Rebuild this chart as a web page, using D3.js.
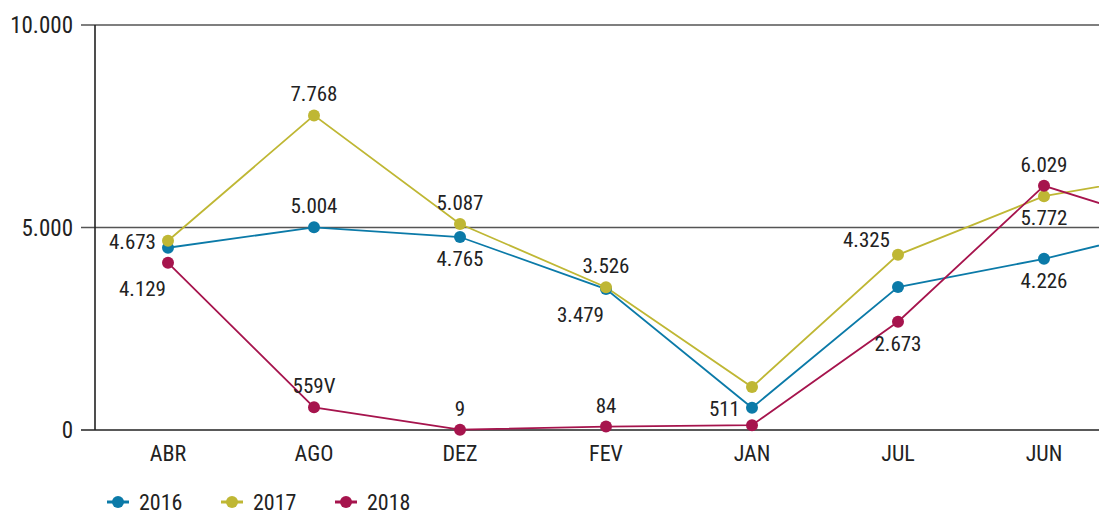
<!DOCTYPE html>
<html>
<head>
<meta charset="utf-8">
<script src="https://cdn.jsdelivr.net/npm/d3@7"></script>
<style>
  body { margin: 0; background: #fff; }
  text { font-family: "Liberation Sans Narrow", "Roboto Condensed", Roboto, sans-serif; fill: #222; }
</style>
</head>
<body>
<div id="chart"></div>
<script>
// months in alphabetical order, the chart is cut off after JUN
const months = ["ABR", "AGO", "DEZ", "FEV", "JAN", "JUL", "JUN", "MAI"];
const years = ["2016", "2017", "2018"];
const values2016 = [4500, 5004, 4765, 3479, 550, 3530, 4226, 5100];
const values2017 = [4673, 7768, 5087, 3526, 1060, 4325, 5772, 6400];
const values2018 = [4129, 559, 9, 84, 120, 2673, 6029, 4900];
const yTicks = [0, 5000, 10000];
const yTickLabels = ["0", "5.000", "10.000"];

// value labels as printed in the original (series, month, text, where)
const valueLabels = [
  ["2017", "ABR", "4.673", "left"],
  ["2018", "ABR", "4.129", "belowleft"],
  ["2017", "AGO", "7.768", "above"],
  ["2016", "AGO", "5.004", "above"],
  ["2018", "AGO", "559V", "above"],
  ["2017", "DEZ", "5.087", "above"],
  ["2016", "DEZ", "4.765", "below"],
  ["2018", "DEZ", "9", "above"],
  ["2017", "FEV", "3.526", "above"],
  ["2016", "FEV", "3.479", "belowleft"],
  ["2018", "FEV", "84", "above"],
  ["2016", "JAN", "511", "left"],
  ["2017", "JUL", "4.325", "aboveleft"],
  ["2018", "JUL", "2.673", "below"],
  ["2018", "JUN", "6.029", "above"],
  ["2017", "JUN", "5.772", "below"],
  ["2016", "JUN", "4.226", "below"]
];

function init() {
  const width = 1099, height = 515;
  const left = 95, top = 25, bottom = 430;
  const step = 146;

  const colors = { "2016": "#0b7aa8", "2017": "#bfb734", "2018": "#a6144d" };
  const series = { "2016": values2016, "2017": values2017, "2018": values2018 };

  const svg = d3.select("#chart").append("svg")
    .attr("width", width).attr("height", height);

  const x = d3.scalePoint()
    .domain(months)
    .range([left + step / 2, left + step / 2 + step * (months.length - 1)]);
  const y = d3.scaleLinear().domain([0, 10000]).range([bottom, top]);

  // horizontal grid lines
  svg.selectAll(".grid")
    .data(yTicks)
    .join("line")
    .attr("x1", 81).attr("x2", width)
    .attr("y1", d => y(d)).attr("y2", d => y(d))
    .attr("stroke", d => d === 0 ? "#222" : "#555")
    .attr("stroke-width", 1.6);

  svg.selectAll(".ytick")
    .data(yTicks)
    .join("text")
    .attr("x", 73).attr("y", d => y(d))
    .attr("dy", "0.35em")
    .attr("text-anchor", "end")
    .style("font-size", "23px")
    .text((d, i) => yTickLabels[i]);

  // y axis line
  svg.append("line")
    .attr("x1", left).attr("x2", left)
    .attr("y1", top).attr("y2", bottom)
    .attr("stroke", "#222").attr("stroke-width", 1.6);

  // only the months that fit in the picture get a label
  svg.selectAll(".xtick")
    .data(months.filter(m => x(m) < width))
    .join("text")
    .attr("x", d => x(d)).attr("y", 461)
    .attr("text-anchor", "middle")
    .style("font-size", "22px")
    .text(d => d);

  const line = d3.line().x((d, i) => x(months[i])).y(d => y(d));

  years.forEach(yr => {
    svg.append("path")
      .datum(series[yr])
      .attr("d", line)
      .attr("fill", "none")
      .attr("stroke", colors[yr])
      .attr("stroke-width", 1.8);
  });

  years.forEach(yr => {
    svg.selectAll(".dot" + yr)
      .data(series[yr])
      .join("circle")
      .attr("cx", (d, i) => x(months[i]))
      .attr("cy", d => y(d))
      .attr("r", 6)
      .attr("fill", colors[yr]);
  });

  // value labels
  const offsets = {
    above: [0, -14, "middle"],
    below: [0, 29, "middle"],
    left: [-12, 8, "end"],
    belowleft: [-2, 33, "end"],
    aboveleft: [-8, -8, "end"]
  };
  svg.selectAll(".vlabel")
    .data(valueLabels)
    .join("text")
    .attr("x", d => x(d[1]) + offsets[d[3]][0])
    .attr("y", d => y(series[d[0]][months.indexOf(d[1])]) + offsets[d[3]][1])
    .attr("text-anchor", d => offsets[d[3]][2])
    .style("font-size", "21px")
    .text(d => d[2]);

  // legend
  const legend = svg.selectAll(".legend")
    .data(years)
    .join("g")
    .attr("transform", (d, i) => `translate(${107 + i * 114},502)`);
  legend.append("line")
    .attr("x1", 0).attr("x2", 22)
    .attr("stroke", d => colors[d]).attr("stroke-width", 3);
  legend.append("circle")
    .attr("cx", 11).attr("r", 6)
    .attr("fill", d => colors[d]);
  legend.append("text")
    .attr("x", 32).attr("dy", "0.35em")
    .style("font-size", "22px")
    .text(d => d);
}

window.onload = init;
</script>
</body>
</html>
